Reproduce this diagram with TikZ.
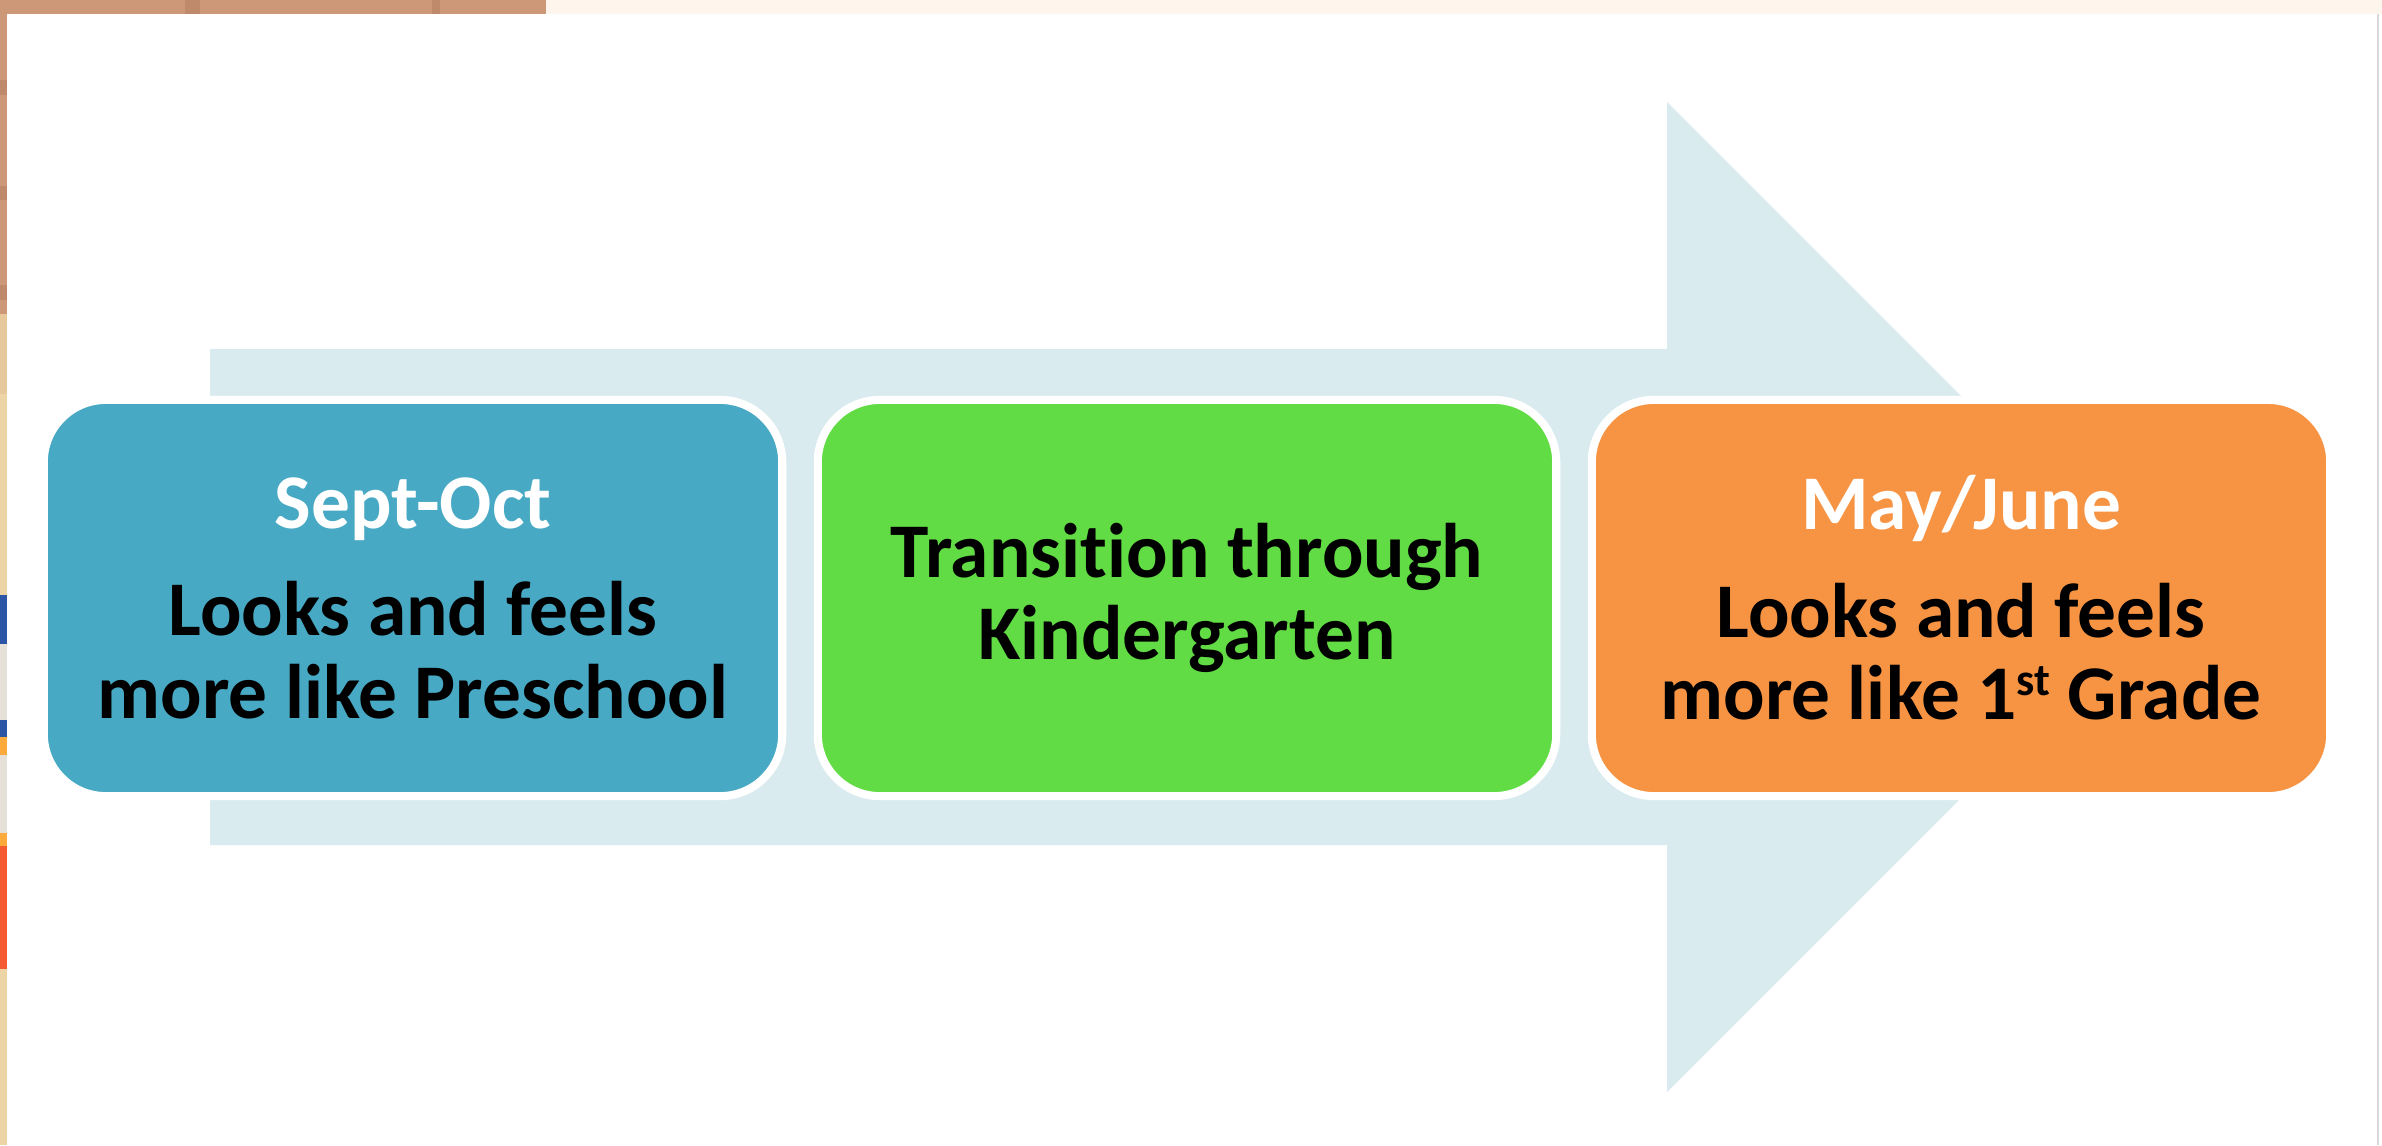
\documentclass[tikz,border=0pt]{standalone}
\usepackage{fontspec}
\setmainfont{Carlito}[Ligatures=NoCommon]
\usepackage{xcolor}
\definecolor{photobrown}{HTML}{CC9878}
\definecolor{photodark}{HTML}{BF8A6C}
\definecolor{phototan}{HTML}{EDD4A6}
\definecolor{photoblue}{HTML}{2C55A5}
\definecolor{photogrey}{HTML}{E5E1D8}
\definecolor{photoorange}{HTML}{FBAA3B}
\definecolor{photored}{HTML}{F65A31}
\definecolor{photocream}{HTML}{FEF6EC}
\definecolor{arrowbg}{HTML}{DAEBF0}
\definecolor{stageblue}{HTML}{48A9C4}
\definecolor{stagegreen}{HTML}{62DC44}
\definecolor{stageorange}{HTML}{F79444}
\newcommand{\season}[1]{\textcolor{white}{#1}}
\newcommand{\ordsup}[1]{\raisebox{7pt}{\fontsize{13}{13}\selectfont #1}}

\begin{document}
\begin{tikzpicture}[x=0.01cm,y=-0.01cm,
		stage/.style={rounded corners=0.62cm,draw=white,line width=2.3pt,
			minimum width=7.38cm,minimum height=3.96cm,inner sep=0pt,align=center,
			font=\bfseries\fontsize{22}{23.5}\selectfont}]
	\useasboundingbox (0,0) rectangle (2382,1145);
	% edges of the photo behind the slide
	\fill[photobrown] (0,0) rectangle (546,14);
	\fill[photocream] (546,0) rectangle (2382,14);
	\fill[photodark] (185,0) rectangle (200,14);
	\fill[photodark] (432,0) rectangle (440,14);
	\fill[photobrown] (0,14) rectangle (7,314);
	\fill[photodark] (0,80) rectangle (7,95);
	\fill[photodark] (0,186) rectangle (7,200);
	\fill[photodark] (0,285) rectangle (7,300);
	\fill[phototan!80!photobrown] (0,314) rectangle (7,394);
	\fill[phototan] (0,394) rectangle (7,595);
	\fill[photoblue] (0,595) rectangle (7,644);
	\fill[photogrey] (0,644) rectangle (7,720);
	\fill[photoblue] (0,720) rectangle (7,737);
	\fill[photoorange] (0,737) rectangle (7,755);
	\fill[photogrey] (0,755) rectangle (7,833);
	\fill[photoorange] (0,833) rectangle (7,846);
	\fill[photored] (0,846) rectangle (7,969);
	\fill[phototan] (0,969) rectangle (7,1145);
	\fill[white] (7,14) rectangle (2382,1145);
	\fill[black!15] (2377,14) rectangle (2379,1145);

	\fill[arrowbg] (210,349) -- (1667,349) -- (1667,102) -- (2162,597)
		-- (1667,1092) -- (1667,845) -- (210,845) -- cycle;

	\node[stage,fill=stageblue] (sept) at (413,598)
		{\season{Sept-Oct}\\[7pt]Looks and feels\\more like Preschool};
	\node[stage,fill=stagegreen] (trans) at (1187,598)
		{Transition through\\Kindergarten};
	\node[stage,fill=stageorange] (may) at (1961,598)
		{\season{May/June}\\[7pt]Looks and feels\\more like 1\ordsup{st} Grade};
\end{tikzpicture}
\end{document}
